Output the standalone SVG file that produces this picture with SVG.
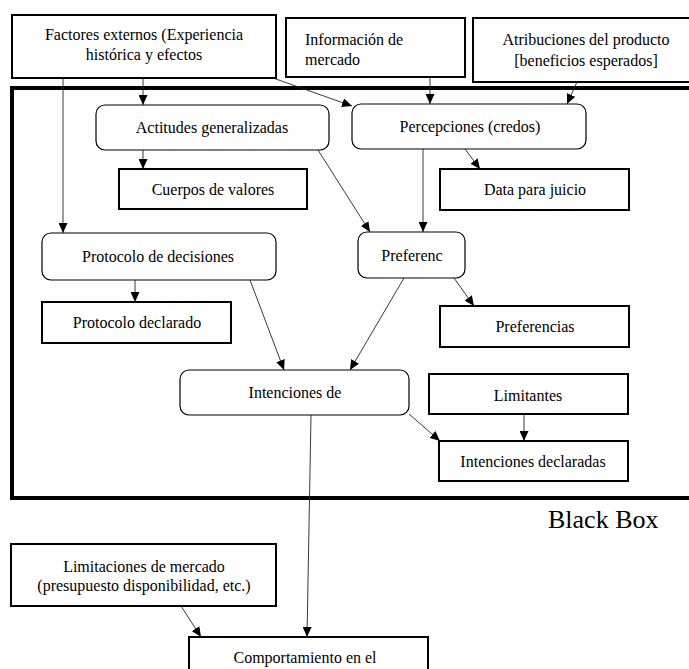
<svg xmlns="http://www.w3.org/2000/svg" width="689" height="669" viewBox="0 0 689 669">
<style>
  .box { fill: #fff; stroke: #000; stroke-width: 2; }
  .rbox { fill: #fff; stroke: #000; stroke-width: 1.2; }
  .t { font-family: "Liberation Serif", "Times New Roman", serif; font-size: 16px; fill: #000; text-anchor: middle; }
  .tl { font-family: "Liberation Serif", "Times New Roman", serif; font-size: 16px; fill: #000; }
  .c { stroke: #222; stroke-width: 0.9; fill: none; marker-end: url(#ah); }
</style>
<defs>
  <marker id="ah" markerUnits="userSpaceOnUse" markerWidth="11" markerHeight="9" refX="10" refY="4.5" orient="auto">
    <path d="M0,0 L10,4.5 L0,9 z" fill="#000"/>
  </marker>
</defs>
<rect width="689" height="669" fill="#fff"/>

<g id="blackbox">
  <rect x="12" y="88" width="690" height="410" fill="none" stroke="#000" stroke-width="4"/>
  <text x="548" y="528" font-family="Liberation Serif, Times New Roman, serif" font-size="26" fill="#000">Black Box</text>
</g>

<g id="factores">
  <rect class="box" x="12" y="15" width="264" height="63"/>
  <text class="t" x="144" y="40">Factores externos (Experiencia</text>
  <text class="t" x="144" y="60">histórica y efectos</text>
</g>
<g id="informacion">
  <rect class="box" x="286" y="18" width="179" height="59"/>
  <text class="tl" x="305" y="45">Información de</text>
  <text class="tl" x="305" y="65">mercado</text>
</g>
<g id="atribuciones">
  <rect class="box" x="473" y="18" width="230" height="64"/>
  <text class="t" x="586" y="45">Atribuciones del producto</text>
  <text class="t" x="586" y="66">[beneficios esperados]</text>
</g>

<g id="actitudes">
  <rect class="rbox" x="96" y="105" width="233" height="45" rx="9"/>
  <text class="t" x="212" y="133">Actitudes generalizadas</text>
</g>
<g id="percepciones">
  <rect class="rbox" x="352" y="104" width="234" height="45" rx="9"/>
  <text class="t" x="470" y="132">Percepciones (credos)</text>
</g>
<g id="cuerpos">
  <rect class="box" x="119" y="169" width="188" height="40"/>
  <text class="t" x="213" y="195">Cuerpos de valores</text>
</g>
<g id="data">
  <rect class="box" x="440" y="169" width="189" height="41"/>
  <text class="t" x="535" y="195">Data para juicio</text>
</g>
<g id="protocolo">
  <rect class="rbox" x="42" y="233" width="234" height="47" rx="9"/>
  <text class="t" x="158" y="262">Protocolo de decisiones</text>
</g>
<g id="preferenc">
  <rect class="rbox" x="358" y="232" width="107" height="46" rx="9"/>
  <text class="t" x="412" y="261">Preferenc</text>
</g>
<g id="protocolo-declarado">
  <rect class="box" x="42" y="302" width="189" height="41"/>
  <text class="t" x="137" y="328">Protocolo declarado</text>
</g>
<g id="preferencias">
  <rect class="box" x="440" y="306" width="189" height="41"/>
  <text class="t" x="535" y="332">Preferencias</text>
</g>
<g id="intenciones">
  <rect class="rbox" x="180" y="370" width="229" height="45" rx="9"/>
  <text class="t" x="295" y="398">Intenciones de</text>
</g>
<g id="limitantes">
  <rect class="box" x="429" y="374" width="199" height="40"/>
  <text class="t" x="528" y="401">Limitantes</text>
</g>
<g id="intenciones-declaradas">
  <rect class="box" x="439" y="441" width="189" height="40"/>
  <text class="t" x="533" y="467">Intenciones declaradas</text>
</g>

<g id="limitaciones">
  <rect class="box" x="11" y="544" width="265" height="62"/>
  <text class="t" x="144" y="572">Limitaciones de mercado</text>
  <text class="t" x="144" y="591">(presupuesto disponibilidad, etc.)</text>
</g>
<g id="comportamiento">
  <rect class="box" x="189" y="637" width="239" height="45"/>
  <text class="t" x="305" y="663">Comportamiento en el</text>
</g>

<g id="connectors">
  <path class="c" d="M63,78 L63,233"/>
  <path class="c" d="M143,78 L143,105"/>
  <path class="c" d="M273,78 L352,106"/>
  <path class="c" d="M430,77 L430,104"/>
  <path class="c" d="M577,82 L567,104"/>
  <path class="c" d="M143,150 L143,169"/>
  <path class="c" d="M318,150 L370,232"/>
  <path class="c" d="M465,149 L480,169"/>
  <path class="c" d="M423,149 L423,232"/>
  <path class="c" d="M135,280 L135,302"/>
  <path class="c" d="M250,280 L284,370"/>
  <path class="c" d="M404,278 L350,370"/>
  <path class="c" d="M454,278 L474,306"/>
  <path class="c" d="M409,414 L440,441"/>
  <path class="c" d="M524,414 L524,441"/>
  <path class="c" d="M311,415 L307,637"/>
  <path class="c" d="M181,606 L201,637"/>
</g>
</svg>
